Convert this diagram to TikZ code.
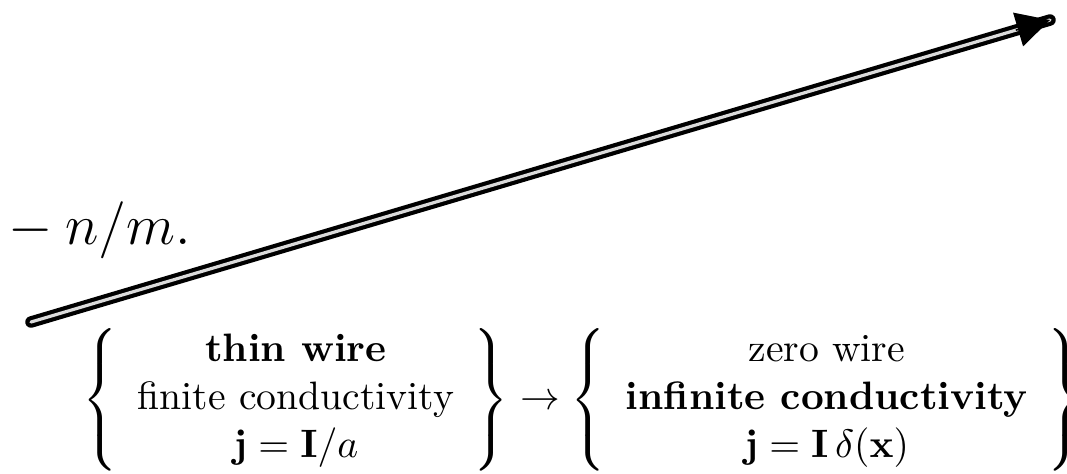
\documentclass[tikz,border=0pt]{standalone}
\usepackage{amsmath,amssymb}
\usetikzlibrary{arrows.meta,calc}

\begin{document}
\begin{tikzpicture}[
x=0.00886cm, y=-0.00886cm,
wire/.style={draw=black, double=black!14, double distance=0.8pt, line width=1.05pt, line cap=round},
headtip/.style={-{Triangle[length=8.4pt,width=8.8pt]}, line width=0.4pt}
]
\useasboundingbox (0,0) rectangle (1067,473);
\clip (0,0) rectangle (1067,473);

\coordinate (tail) at (31,322);
\coordinate (head) at (1050,20);
\draw[wire] (tail) -- (head);
\draw[headtip] ($(head)!9pt!(tail)$) -- (head);

\node[anchor=base west, font=\Large, inner sep=0pt] (ratio) at (-5,244) {${}-n/m.$};
\node[anchor=west, inner sep=0pt] (limit) at (82,400) {$\left\{\begin{array}{c}\textbf{thin wire}\\ \text{finite conductivity}\\ \mathbf{j}=\mathbf{I}/a\end{array}\right\}\to\left\{\begin{array}{c}\text{zero wire}\\ \textbf{infinite conductivity}\\ \mathbf{j}=\mathbf{I}\,\delta(\mathbf{x})\end{array}\right\}$};
\end{tikzpicture}
\end{document}
